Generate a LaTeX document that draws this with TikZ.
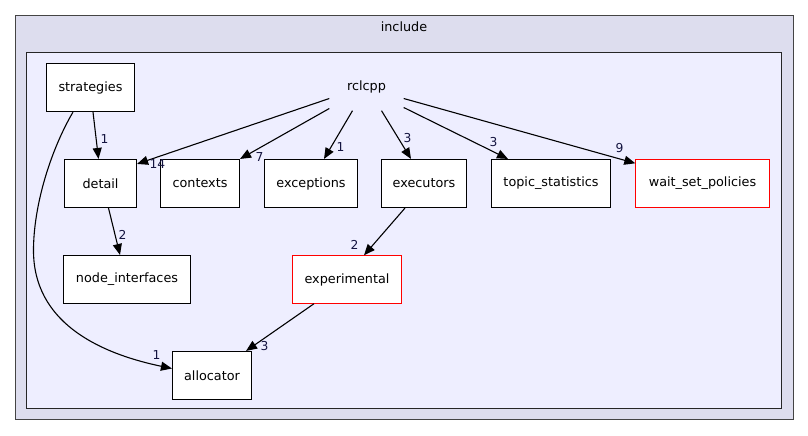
\documentclass[tikz,border=0pt]{standalone}
\usepackage{fontspec}
\setmainfont{DejaVu Sans}
\usetikzlibrary{arrows.meta,calc}
\definecolor{outerfill}{HTML}{DDDDEE}
\definecolor{innerfill}{HTML}{EEEEFF}
\definecolor{outerline}{HTML}{444444}
\definecolor{lbl}{HTML}{141440}
\definecolor{redline}{HTML}{FF0000}
\tikzset{
  dirbox/.style={draw=black, line width=1.1pt, fill=white, minimum height=48pt, inner sep=0pt, font=\fontsize{12.8}{15}\selectfont},
  redbox/.style={fill=white, minimum height=48pt, inner sep=0pt, font=\fontsize{12.8}{15}\selectfont},
  redframe/.style={draw=redline, line width=1.4pt},
  conn/.style={draw=black, line width=1.1pt, -{Triangle[length=11pt,width=9pt]}},
  elab/.style={font=\fontsize{12.3}{14}\selectfont, text=lbl, inner sep=0pt},
}
\begin{document}
\begin{tikzpicture}[x=1pt,y=-1pt]
\useasboundingbox (0,0) rectangle (808,436);
\draw[outerline, line width=1.1pt, fill=outerfill] (15.5,15.5) rectangle (793.5,419.5);
\node[font=\fontsize{12.8}{15}\selectfont, inner sep=0pt] (include) at (404,27) {include};
\draw[black!85, line width=1.1pt, fill=innerfill] (26.5,52.5) rectangle (781.5,408.5);

\begin{scope}[shift={(0.5,0.5)}]
\node[dirbox, minimum width=88pt] (strategies) at (90,87) {strategies};
\node[font=\fontsize{12.8}{15}\selectfont, minimum width=74pt, minimum height=48pt, inner sep=0pt] (rclcpp) at (366,86) {rclcpp};
\node[dirbox, minimum width=72pt] (detail) at (100,183) {detail};
\node[dirbox, minimum width=79pt] (contexts) at (199.5,183) {contexts};
\node[dirbox, minimum width=93pt] (exceptions) at (310.5,183) {exceptions};
\node[dirbox, minimum width=85pt] (executors) at (423.5,183) {executors};
\node[dirbox, minimum width=119pt] (topic) at (550.5,183) {topic\_statistics};
\node[redbox, minimum width=134pt] (wait) at (702,183) {wait\_set\_policies};
\draw[redframe] (wait.north west) rectangle (wait.south east);
\node[dirbox, minimum width=127pt] (nodeif) at (126.5,279) {node\_interfaces};
\node[redbox, minimum width=109pt] (experimental) at (346.5,279) {experimental};
\draw[redframe] (experimental.north west) rectangle (experimental.south east);
\node[dirbox, minimum width=79pt] (allocator) at (211.5,375) {allocator};

% rclcpp edges
\draw[conn] ($(rclcpp.west)+(0,12)$) -- ($(detail.north east)+(0,5)$);
\node[elab] (l14) at (157,164) {14};
\draw[conn] ($(rclcpp.west)+(0,22)$) -- (contexts.north east);
\node[elab] (l7) at (259,157) {7};
\draw[conn] ($(rclcpp.south)+(-14,0)$) -- ($(exceptions.north)+(13,0)$);
\node[elab] (l1a) at (340,147) {1};
\draw[conn] ($(rclcpp.south)+(15,0)$) -- ($(executors.north)+(-13,0)$);
\node[elab] (l3a) at (407,138) {3};
\draw[conn] ($(rclcpp.east)+(0,21)$) -- ($(topic.north)+(-43,0)$);
\node[elab] (l3b) at (493,142) {3};
\draw[conn] ($(rclcpp.east)+(0,12)$) -- ($(wait.north west)+(0,4)$);
\node[elab] (l9) at (619,148) {9};

% strategies edges
\draw[conn] ($(strategies.south)+(2.5,0)$) -- ($(detail.north)+(-2,0)$);
\node[elab] (l1b) at (104,139) {1};
\draw[conn] ($(strategies.south)+(-17.5,0)$) .. controls (50,150) and (33,205) .. (33,250)
  .. controls (33,320) and (95,352) .. ($(allocator.west)+(0,-7)$);
\node[elab] (l1c) at (156,355) {1};

% other edges
\draw[conn] ($(detail.south)+(8,0)$) -- ($(nodeif.north)+(-7,0)$);
\node[elab] (l2a) at (122,234) {2};
\draw[conn] ($(executors.south)+(-19,0)$) -- ($(experimental.north)+(17,0)$);
\node[elab] (l2b) at (354,244) {2};
\draw[conn] ($(experimental.south)+(-33,0)$) -- ($(allocator.north east)+(-6,0)$);
\node[elab] (l3c) at (264,346) {3};
\end{scope}
\end{tikzpicture}
\end{document}
